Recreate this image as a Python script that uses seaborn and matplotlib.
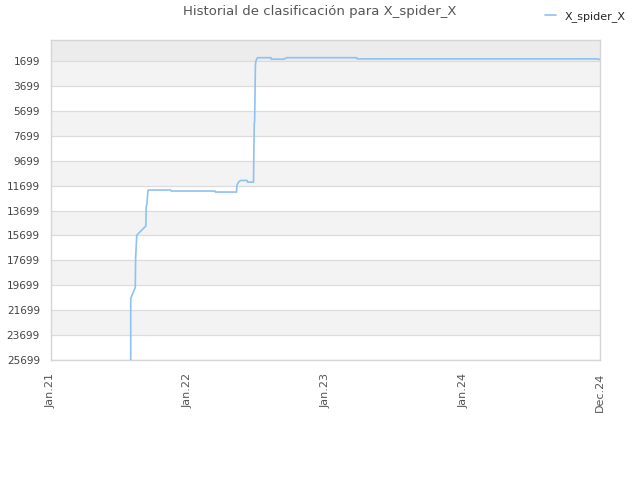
import matplotlib
matplotlib.use("Agg")
import matplotlib.pyplot as plt
import seaborn as sns
import pandas as pd
from matplotlib.lines import Line2D

# ---- data ----
dates = ["2021-08-04", "2021-08-04", "2021-08-16", "2021-08-17", "2021-08-20",
         "2021-09-13", "2021-09-14", "2021-09-16", "2021-09-18", "2021-09-19",
         "2021-11-18", "2021-11-19", "2022-03-15", "2022-03-16", "2022-05-11",
         "2022-05-12", "2022-05-17", "2022-05-22", "2022-06-08", "2022-06-09",
         "2022-06-25", "2022-06-26", "2022-06-27", "2022-06-28", "2022-06-30",
         "2022-07-01", "2022-07-04", "2022-07-06", "2022-08-10", "2022-08-11",
         "2022-09-13", "2022-09-21", "2023-03-25", "2023-03-26", "2024-12-20",
         "2024-12-27"]
ranks = [26200, 20750, 19860, 17460, 15670,
         14940, 13390, 13120, 12300, 12050,
         12050, 12130, 12130, 12210, 12210,
         11650, 11390, 11280, 11280, 11410,
         11410, 8710, 6750, 6430, 2020,
         1750, 1480, 1420, 1420, 1540,
         1540, 1420, 1420, 1515, 1515,
         1560]
series_name = "X_spider_X"
title = "Historial de clasificación para X_spider_X"
ytick_values = [1699, 3699, 5699, 7699, 9699, 11699, 13699, 15699, 17699, 19699, 21699, 23699, 25699]
xtick_dates = ["2021-01-05", "2022-01-01", "2023-01-01", "2024-01-01", "2024-12-28"]
xtick_labels = ["Jan.21", "Jan.22", "Jan.23", "Jan.24", "Dec.24"]

df = pd.DataFrame({"fecha": pd.to_datetime(dates), "rank": ranks, "serie": series_name})

sns.set_style("white")
plt.rcParams["font.family"] = ["DejaVu Sans"]

fig = plt.figure(figsize=(6.4, 4.8), dpi=100)
ax = fig.add_axes([51/640, 120/480, 549/640, 320/480])

# alternating bands
ymin_top = 0
ax.axhspan(ymin_top, ytick_values[0], color="#ececec", zorder=0, lw=0)
for i in range(len(ytick_values) - 1):
    if i % 2 == 0:
        ax.axhspan(ytick_values[i], ytick_values[i + 1], color="#f3f3f3", zorder=0, lw=0)
for v in ytick_values:
    ax.axhline(v, color="#dcdcdc", lw=0.9, zorder=1)

sns.lineplot(data=df, x="fecha", y="rank", hue="serie", palette=["#8fc1f2"],
             lw=1.2, ax=ax, legend=False, zorder=3, estimator=None, sort=False)

ax.set_ylim(25699, ymin_top)
ax.set_xlim(pd.Timestamp(xtick_dates[0]), pd.Timestamp(xtick_dates[-1]))
ax.set_yticks(ytick_values)
ax.set_yticklabels([str(v) for v in ytick_values], fontsize=7.6, color="#444444")
ax.set_xticks([pd.Timestamp(d) for d in xtick_dates])
ax.set_xticklabels(xtick_labels, rotation=90, fontsize=8, color="#555555")
ax.tick_params(axis="y", length=0, pad=8)
ax.tick_params(axis="x", length=0, pad=9)
ax.set_xlabel("")
ax.set_ylabel("")
for s in ax.spines.values():
    s.set_color("#d5d5d5")
    s.set_linewidth(1)

fig.text(0.5, 0.975, title, ha="center", va="center", fontsize=9.5, color="#555555")

handle = Line2D([], [], color="#8fc1f2", lw=1.2)
fig.legend([handle], [series_name], loc="center right", bbox_to_anchor=(0.985, 0.966),
           frameon=False, fontsize=8, handlelength=1.0, handletextpad=0.8, borderaxespad=0)

fig.savefig("out.png", dpi=100)
